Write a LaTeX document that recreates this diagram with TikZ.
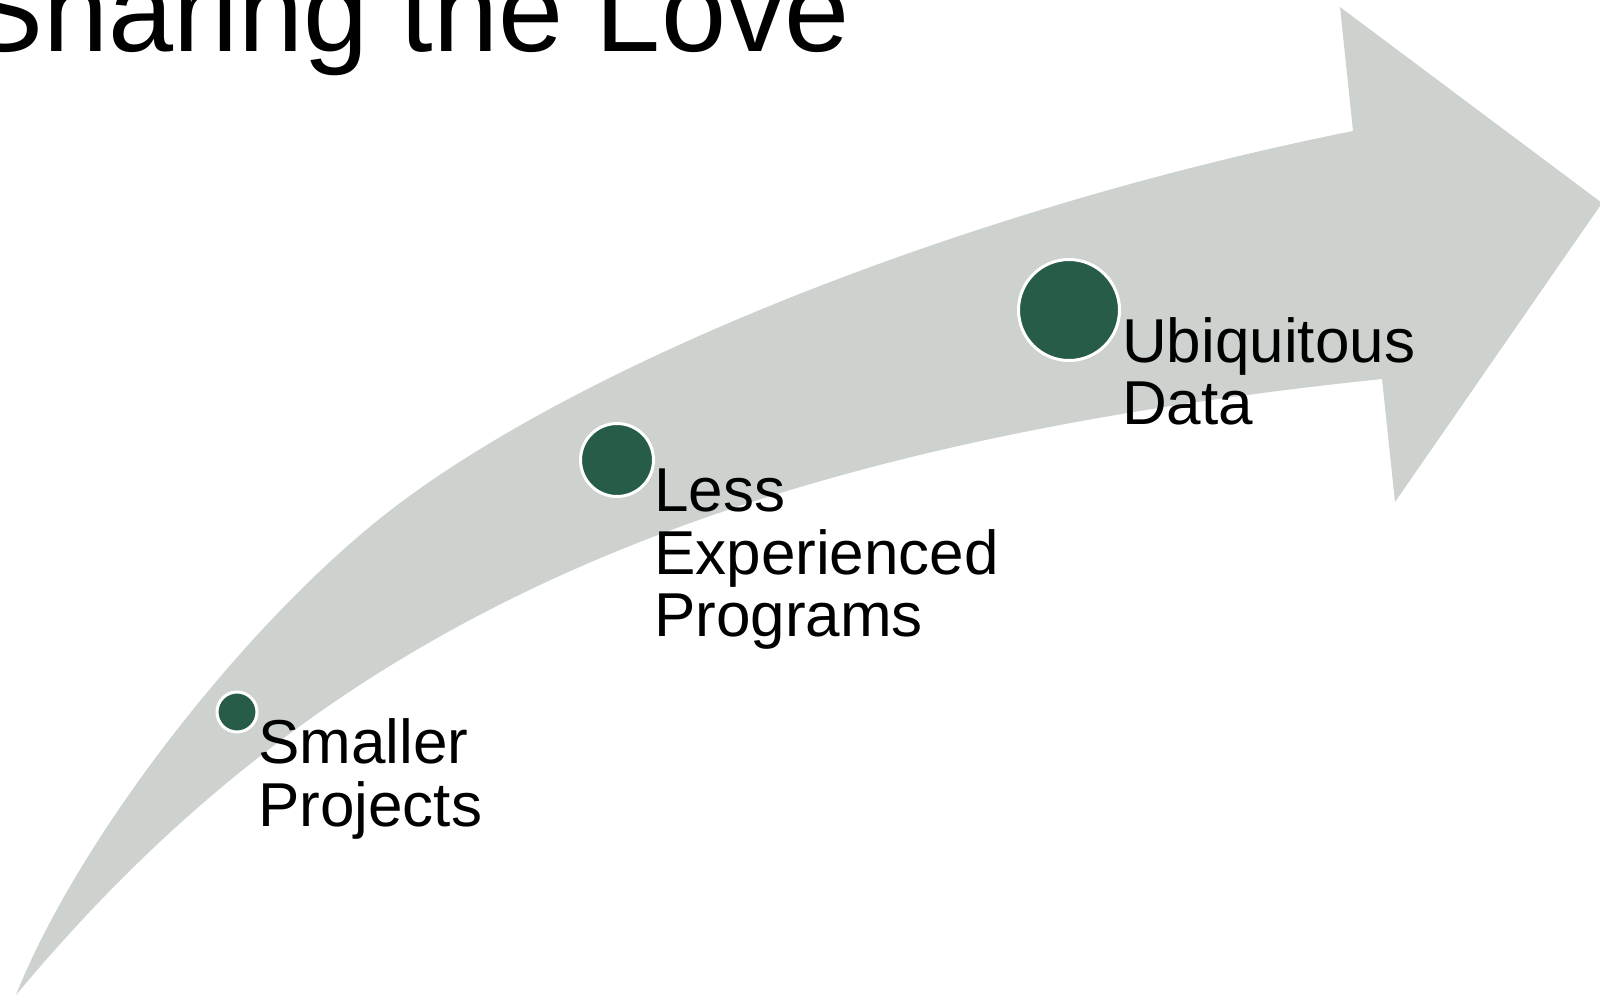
\documentclass[tikz,border=0pt]{standalone}
\usepackage{fontspec}
\setmainfont{Liberation Sans}
\definecolor{arrowgray}{HTML}{CDD2CE}
\definecolor{dotgreen}{HTML}{265C48}
\tikzset{
  dot/.style={circle, fill=dotgreen, draw=white, line width=3pt, inner sep=0pt},
  lbl/.style={anchor=base west, inner sep=0pt, font=\fontsize{62}{62}\selectfont},
  ttl/.style={anchor=base west, inner sep=0pt, font=\fontsize{117}{120}\selectfont}
}
\begin{document}
\begin{tikzpicture}[x=1pt, y=-1pt]
\useasboundingbox (0,0) rectangle (1600,996);
\clip (0,0) rectangle (1600,996);
\fill[white] (0,0) rectangle (1600,996);
% curved arrow
\fill[arrowgray] (16,995)
  .. controls (80,834) and (253,613) .. (400,503)
  .. controls (598,355) and (979,206) .. (1353,131)
  -- (1340,7) -- (1602,203) -- (1395,502) -- (1382,379)
  .. controls (691,451) and (315,636) .. (16,995)
  -- cycle;
% title
\node[ttl] (title) at (-35,51) {Sharing the Love};
% dots
\node[dot, minimum size=40pt] (d1) at (237,712) {};
\node[dot, minimum size=73pt] (d2) at (617,460) {};
\node[dot, minimum size=101pt] (d3) at (1069,310) {};
% labels
\node[lbl] (l1) at (258,763) {\begin{tabular}[t]{@{}l@{}}Smaller\\Projects\end{tabular}};
\node[lbl] (l2) at (654,511) {\begin{tabular}[t]{@{}l@{}}Less\\Experienced\\Programs\end{tabular}};
\node[lbl] (l3) at (1122,362) {\begin{tabular}[t]{@{}l@{}}Ubiquitous\\Data\end{tabular}};
\end{tikzpicture}
\end{document}
